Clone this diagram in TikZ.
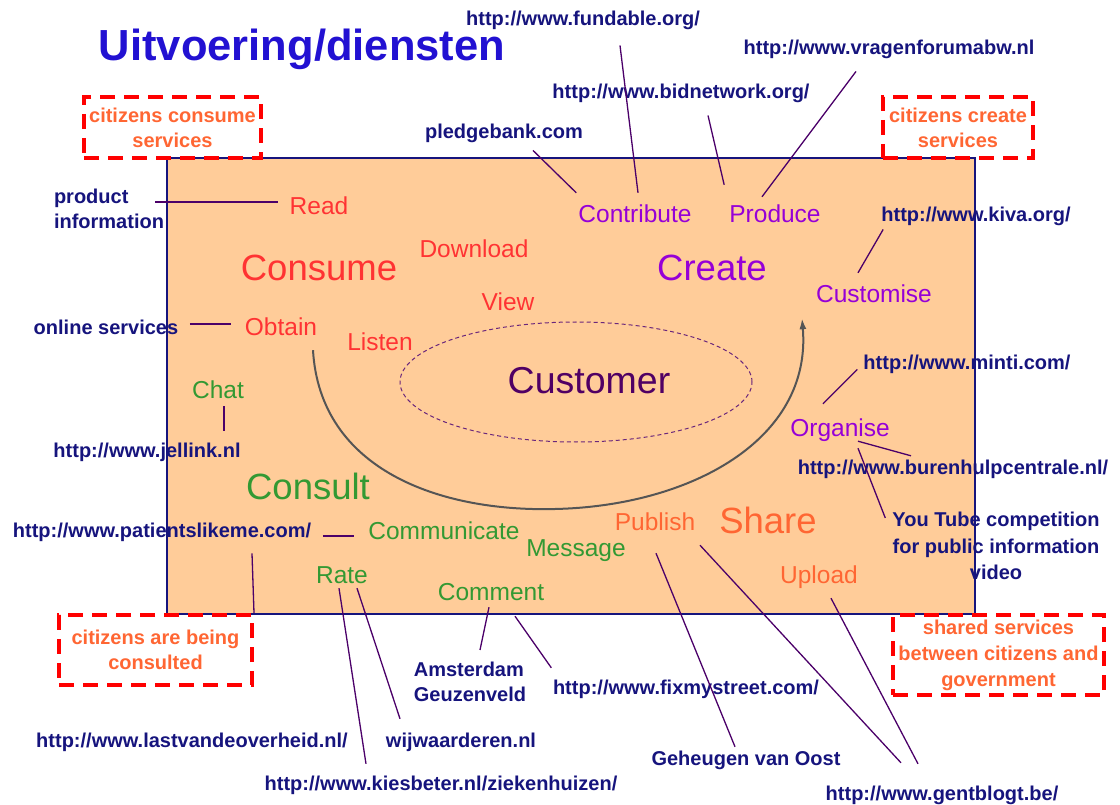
\documentclass[tikz,border=0pt]{standalone}
\usepackage{fontspec}
\setmainfont{Liberation Sans}
\usetikzlibrary{arrows.meta}
\definecolor{peach}{RGB}{255,204,153}
\definecolor{navy}{RGB}{22,20,125}
\definecolor{titleblue}{RGB}{34,17,210}
\definecolor{linkpurple}{RGB}{75,0,105}
\definecolor{conred}{RGB}{255,51,51}
\definecolor{crepurple}{RGB}{150,0,215}
\definecolor{congreen}{RGB}{51,153,51}
\definecolor{shaorange}{RGB}{255,102,51}
\definecolor{custpurple}{RGB}{80,0,100}
\definecolor{curvegray}{RGB}{85,85,85}

\begin{document}
\begin{tikzpicture}[x=1pt, y=-1pt, every node/.style={inner sep=0pt},
lbl/.style={font=\fontsize{24.5}{28}\selectfont, text height=17pt, text depth=5pt},
big/.style={font=\fontsize{36.5}{40}\selectfont, text height=26pt, text depth=7pt},
url/.style={font=\bfseries\fontsize{20}{25}\selectfont, text=navy, text height=14.5pt, text depth=4pt},
urlm/.style={font=\bfseries\fontsize{20}{25}\selectfont, text=navy},
box/.style={draw=red, line width=4pt, dash pattern=on 15pt off 9pt, font=\bfseries\fontsize{20}{25}\selectfont, text=shaorange, align=center},
link/.style={draw=linkpurple, line width=1.3pt}]
\useasboundingbox (0,0) rectangle (1120,805);
%================================================================
% Background
\filldraw[fill=peach, draw=navy, line width=1.5pt] (167,158) rectangle (975,614);
\node[font=\bfseries\fontsize{43.5}{48}\selectfont, text=titleblue] (title) at (302,49) {Uitvoering/diensten};

%================================================================
% Boxes
\node[box, minimum width=177pt, minimum height=61pt] (consumebox) at (172.5,127.5) {citizens consume\\services};
\node[box, minimum width=150pt, minimum height=61pt] (createbox) at (958,127.5) {citizens create\\services};
\node[box, minimum width=193pt, minimum height=70pt] (consultbox) at (155.5,650) {citizens are being\\consulted};
\node[box, minimum width=211pt, minimum height=80pt, font=\bfseries\fontsize{20}{26}\selectfont] (sharebox) at (998.5,655) {shared services\\between citizens and\\government};

%================================================================
% Consume
\node[big, text=conred] (consume) at (319,271) {Consume};
\node[lbl, text=conred] (read) at (319,209) {Read};
\node[lbl, text=conred] (download) at (474,252) {Download};
\node[lbl, text=conred] (view) at (508,305) {View};
\node[lbl, text=conred] (obtain) at (281,330) {Obtain};
\node[lbl, text=conred] (listen) at (380,344) {Listen};

% --------------------------------
% Create
\node[big, text=crepurple] (create) at (712,271) {Create};
\node[lbl, text=crepurple] (contribute) at (635,217) {Contribute};
\node[lbl, text=crepurple] (produce) at (775,217) {Produce};
\node[lbl, text=crepurple] (customise) at (874,296) {Customise};
\node[lbl, text=crepurple] (organise) at (840,430) {Organise};

% --------------------------------
% Consult
\node[big, text=congreen] (consult) at (308,490) {Consult};
\node[lbl, text=congreen] (chat) at (218,392) {Chat};
\node[lbl, text=congreen] (communicate) at (444,533) {Communicate};
\node[lbl, text=congreen] (message) at (576,550) {Message};
\node[lbl, text=congreen] (rate) at (342,577) {Rate};
\node[lbl, text=congreen] (comment) at (491,594) {Comment};

% --------------------------------
% Share
\node[big, text=shaorange] (share) at (768,524) {Share};
\node[lbl, text=shaorange] (publish) at (655,524) {Publish};
\node[lbl, text=shaorange] (upload) at (819,577) {Upload};

% --------------------------------
% Customer
\node[font=\fontsize{37.5}{40}\selectfont, text=custpurple, text height=26pt, text depth=7pt] (customer) at (589,384) {Customer};
\draw[custpurple!85, line width=1pt, dash pattern=on 4pt off 3pt] ([xshift=-13pt,yshift=2pt]customer.center) ellipse [x radius=176pt, y radius=60pt];
\draw[curvegray, line width=2pt, -{Latex[length=11pt,width=7pt]}] ([xshift=32pt,yshift=-9pt]obtain.south) .. controls (320,470) and (440,512) .. (555,509) .. controls (690,506) and (812,440) .. ([xshift=-72pt,yshift=-11pt]customise.south);

%================================================================
% Examples
\node[urlm, align=left] (prodinfo) at (109,209) {product\\information};
\node[url] (online) at (106,329) {online services};
\node[url] (pledge) at (504,133) {pledgebank.com};
\node[url] (fundable) at (583,20) {http://www.fundable.org/};
\node[url] (bidnet) at (681,93) {http://www.bidnetwork.org/};
\node[url] (vragen) at (889,49) {http://www.vragenforumabw.nl};
\node[url] (kiva) at (976,216) {http://www.kiva.org/};
\node[url] (minti) at (967,364) {http://www.minti.com/};
\node[url] (buren) at (953,469) {http://www.burenhulpcentrale.nl/};
\node[urlm, align=center, font=\bfseries\fontsize{20}{26.5}\selectfont] (youtube) at (996,546) {You Tube competition\\for public information\\video};
\node[url] (jellink) at (147,452) {http://www.jellink.nl};
\node[url] (patients) at (162,532) {http://www.patientslikeme.com/};
\node[url] (lastvan) at (192,742) {http://www.lastvandeoverheid.nl/};
\node[url] (wijw) at (461,742) {wijwaarderen.nl};
\node[url] (kiesbeter) at (441,785) {http://www.kiesbeter.nl/ziekenhuizen/};
\node[urlm, align=left] (amsterdam) at (470,682) {Amsterdam\\Geuzenveld};
\node[url] (fixmy) at (686,689) {http://www.fixmystreet.com/};
\node[url] (geheugen) at (746,760) {Geheugen van Oost};
\node[url] (gentblogt) at (942,795) {http://www.gentblogt.be/};

% --------------------------------
% Links
\draw[link] ([xshift=-9pt,yshift=7pt]prodinfo.east) -- ([xshift=-12pt,yshift=7pt]read.west);
\draw[link] ([xshift=11.5pt,yshift=5pt]online.east) -- ([xshift=-14pt,yshift=6pt]obtain.west);
\draw[link] ([xshift=29pt,yshift=-8pt]pledge.south) -- ([xshift=-2pt,yshift=13pt]contribute.north west);
\draw[link] ([xshift=37pt,yshift=-16pt]fundable.south) -- ([xshift=3pt,yshift=13pt]contribute.north);
\draw[link] ([xshift=27pt,yshift=-13pt]bidnet.south) -- ([xshift=-5pt,yshift=21pt]produce.north west);
\draw[link] ([xshift=-33pt,yshift=-13pt]vragen.south) -- ([xshift=-13pt,yshift=9pt]produce.north);
\draw[link] ([xshift=2pt,yshift=-4pt]kiva.south west) -- ([xshift=-16pt,yshift=12pt]customise.north);
\draw[link] ([xshift=-6pt,yshift=4pt]minti.south west) -- ([xshift=-17pt,yshift=15pt]organise.north);
\draw[link] ([xshift=18pt]organise.south) -- ([xshift=-42pt,yshift=3.75pt]buren.north);
\draw[link] ([xshift=18pt,yshift=-7pt]organise.south) -- ([xshift=-7pt,yshift=-6pt]youtube.north west);
\draw[link] ([xshift=77pt,yshift=11.75pt]jellink.north) -- ([xshift=6pt,yshift=-3pt]chat.south);
\draw[link] ([xshift=11.5pt,yshift=-4pt]patients.east) -- ([xshift=-14pt,yshift=-3pt]communicate.west);
\draw[link] ([xshift=90pt,yshift=-12pt]patients.south) -- (consultbox.north east);
\draw[link] ([xshift=-3pt]rate.south) -- ([xshift=-75pt,yshift=11.75pt]kiesbeter.north);
\draw[link] ([xshift=15pt]rate.south) -- ([xshift=-61pt,yshift=13.75pt]wijw.north);
\draw[link] ([xshift=-2pt,yshift=-2pt]comment.south) -- ([xshift=10pt,yshift=12pt]amsterdam.north);
\draw[link] ([xshift=24pt,yshift=-11pt]comment.south) -- ([xshift=-1.5pt,yshift=11.75pt]fixmy.north west);
\draw[link] ([xshift=1pt,yshift=-18pt]publish.south) -- ([xshift=-11pt,yshift=3.75pt]geheugen.north);
\draw[link] ([xshift=45pt,yshift=-10pt]publish.south) -- ([xshift=-41pt,yshift=22.75pt]gentblogt.north);
\draw[link] ([xshift=12pt,yshift=-10pt]upload.south) -- ([xshift=-24pt,yshift=21.75pt]gentblogt.north);

%================================================================
\end{tikzpicture}
\end{document}
